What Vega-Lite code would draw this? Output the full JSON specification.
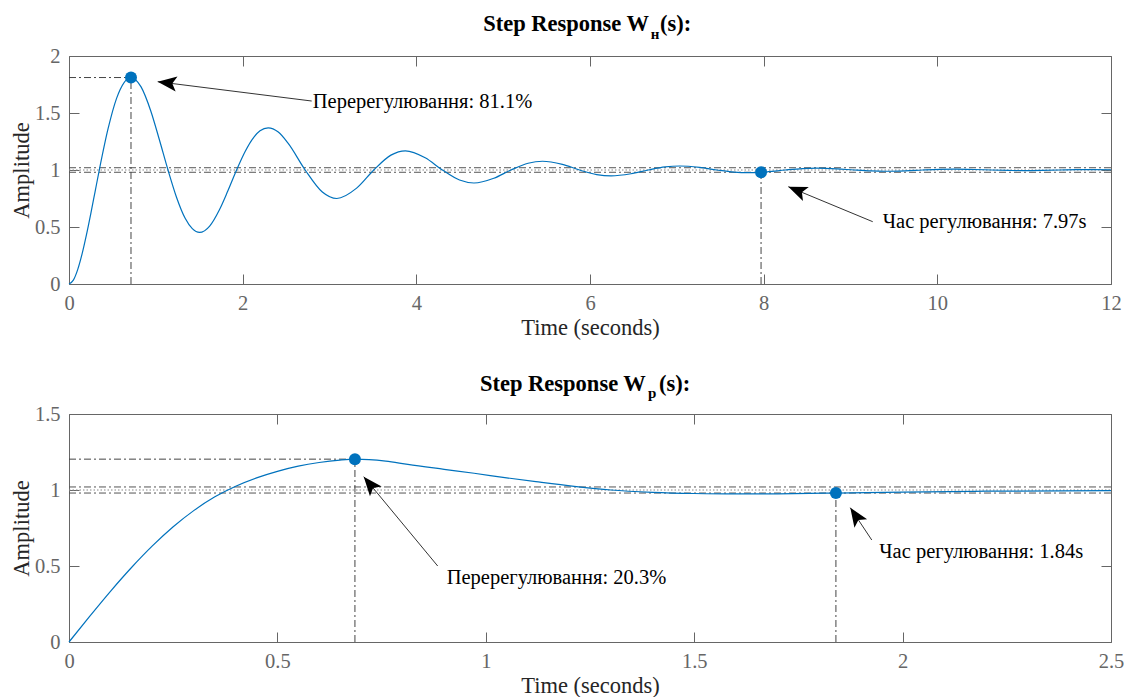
{
  "$schema": "https://vega.github.io/schema/vega-lite/v6.json",
  "background": "white",
  "padding": {"left": 10, "top": 13, "right": 0, "bottom": 0},
  "bounds": "flush",
  "spacing": 130,
  "config": {
    "view": {"stroke": null},
    "font": "Liberation Serif",
    "axis": {
      "domainColor": "#666666", "tickColor": "#666666", "labelColor": "#666666", "titleColor": "#262626",
      "labelFont": "Liberation Serif", "titleFont": "Liberation Serif",
      "labelFontSize": 20.5, "titleFontSize": 22.5, "titleFontWeight": "normal",
      "grid": false, "tickSize": -10, "labelFlush": false, "labelOverlap": false,
      "domainWidth": 1, "tickWidth": 1
    }
  },
  "vconcat": [
    {
      "width": 1042, "height": 228,
      "encoding": {
        "x": {"field": "x", "type": "quantitative", "scale": {"domain": [0, 12], "nice": false, "zero": false}, "axis": null},
        "y": {"field": "y", "type": "quantitative", "scale": {"domain": [0, 2], "nice": false, "zero": false}, "axis": null}
      },
      "resolve": {"axis": {"x": "independent", "y": "independent"}},
      "layer": [
        {
          "data": {"values": [{"x": 0, "x2": 12, "y": 0.98, "y2": 0.98}, {"x": 0, "x2": 12, "y": 1.02, "y2": 1.02}]},
          "mark": {"type": "rule", "color": "#555555", "strokeWidth": 1, "strokeDash": [7, 3, 2, 3]},
          "encoding": {"x2": {"field": "x2"}, "y2": {"field": "y2"}}
        },
        {
          "data": {"values": [{"x": 0, "x2": 12, "y": 1, "y2": 1}]},
          "mark": {"type": "rule", "color": "#888888", "strokeWidth": 1, "strokeDash": [1.5, 2]},
          "encoding": {"x2": {"field": "x2"}, "y2": {"field": "y2"}}
        },
        {
          "data": {"values": [{"x": 0, "x2": 0.714, "y": 1.811, "y2": 1.811}, {"x": 0.714, "x2": 0.714, "y": 0, "y2": 1.811}, {"x": 7.97, "x2": 7.97, "y": 0, "y2": 0.98}]},
          "mark": {"type": "rule", "color": "#444444", "strokeWidth": 1, "strokeDash": [7, 3, 2, 3]},
          "encoding": {"x2": {"field": "x2"}, "y2": {"field": "y2"}}
        },
        {
          "data": {"values": [
            {"x": 0, "y": 0}, {"x": 0.05, "y": 0.0342}, {"x": 0.1, "y": 0.1266}, {"x": 0.15, "y": 0.2621}, {"x": 0.2, "y": 0.4284}, {"x": 0.25, "y": 0.6134}, {"x": 0.3, "y": 0.8088}, {"x": 0.3503, "y": 1.0054}, {"x": 0.45, "y": 1.3622},
            {"x": 0.5478, "y": 1.6285}, {"x": 0.714, "y": 1.8111}, {"x": 0.83, "y": 1.7292}, {"x": 0.9427, "y": 1.5159}, {"x": 1.04, "y": 1.2676},
            {"x": 1.1402, "y": 1.0}, {"x": 1.24, "y": 0.7569}, {"x": 1.3377, "y": 0.576}, {"x": 1.42, "y": 0.4852}, {"x": 1.5039, "y": 0.4522}, {"x": 1.62, "y": 0.5083}, {"x": 1.7326, "y": 0.6516}, {"x": 1.83, "y": 0.8176},
            {"x": 1.9301, "y": 1.0}, {"x": 2.03, "y": 1.1644}, {"x": 2.1276, "y": 1.2863}, {"x": 2.2, "y": 1.3434}, {"x": 2.2938, "y": 1.3699}, {"x": 2.41, "y": 1.3325}, {"x": 2.5225, "y": 1.2353},
            {"x": 2.72, "y": 1.0}, {"x": 2.9175, "y": 0.8066}, {"x": 3.0837, "y": 0.7502}, {"x": 3.3124, "y": 0.8411},
            {"x": 3.5099, "y": 1.0}, {"x": 3.7074, "y": 1.1306}, {"x": 3.8736, "y": 1.1686}, {"x": 4.1023, "y": 1.1073},
            {"x": 4.2998, "y": 1.0}, {"x": 4.4973, "y": 0.9118}, {"x": 4.6635, "y": 0.8861}, {"x": 4.8922, "y": 0.9276},
            {"x": 5.0897, "y": 1.0}, {"x": 5.2872, "y": 1.0595}, {"x": 5.4534, "y": 1.0769}, {"x": 5.6821, "y": 1.049},
            {"x": 5.8796, "y": 1.0}, {"x": 6.0771, "y": 0.9598}, {"x": 6.2433, "y": 0.9481}, {"x": 6.472, "y": 0.967},
            {"x": 6.6695, "y": 1.0}, {"x": 6.867, "y": 1.0271}, {"x": 7.0332, "y": 1.035}, {"x": 7.2619, "y": 1.0223},
            {"x": 7.4594, "y": 1.0}, {"x": 7.6569, "y": 0.9817}, {"x": 7.8231, "y": 0.9763}, {"x": 7.97, "y": 0.98}, {"x": 8.0518, "y": 0.9849},
            {"x": 8.2493, "y": 1.0}, {"x": 8.4468, "y": 1.0124}, {"x": 8.613, "y": 1.016}, {"x": 8.8417, "y": 1.0102},
            {"x": 9.0392, "y": 1.0}, {"x": 9.2367, "y": 0.9916}, {"x": 9.4029, "y": 0.9892}, {"x": 9.6316, "y": 0.9931},
            {"x": 9.8291, "y": 1.0}, {"x": 10.0266, "y": 1.0056}, {"x": 10.1928, "y": 1.0073}, {"x": 10.4215, "y": 1.0046},
            {"x": 10.619, "y": 1.0}, {"x": 10.8165, "y": 0.9962}, {"x": 10.9827, "y": 0.9951}, {"x": 11.2114, "y": 0.9969},
            {"x": 11.4089, "y": 1.0}, {"x": 11.6064, "y": 1.0026}, {"x": 11.7726, "y": 1.0033}, {"x": 12, "y": 1.0021}
          ]},
          "mark": {"type": "line", "color": "#0072BD", "strokeWidth": 1.2, "interpolate": "monotone"},
          "encoding": {
            "x": {"field": "x", "type": "quantitative", "scale": {"domain": [0, 12], "nice": false, "zero": false},
                  "axis": {"orient": "bottom", "values": [0, 2, 4, 6, 8, 10, 12], "format": "~g", "title": "Time (seconds)", "labelPadding": 19, "titlePadding": 3}},
            "y": {"field": "y", "type": "quantitative", "scale": {"domain": [0, 2], "nice": false, "zero": false},
                  "axis": {"orient": "left", "values": [0, 0.5, 1, 1.5, 2], "format": "~g", "title": "Amplitude", "labelPadding": 19, "titlePadding": 1}}
          }
        },
        {
          "data": {"values": [{"x": 0.714, "y": 1.811}, {"x": 7.97, "y": 0.98}]},
          "mark": {"type": "point", "shape": "circle", "filled": true, "opacity": 1, "color": "#0072BD", "size": 144},
          "encoding": {
            "x": {"field": "x", "type": "quantitative", "scale": {"domain": [0, 12], "nice": false, "zero": false},
                  "axis": {"orient": "top", "values": [0, 2, 4, 6, 8, 10, 12], "labels": false, "title": null}},
            "y": {"field": "y", "type": "quantitative", "scale": {"domain": [0, 2], "nice": false, "zero": false},
                  "axis": {"orient": "right", "values": [0, 0.5, 1, 1.5, 2], "labels": false, "title": null}}
          }
        },
        {
          "data": {"values": [{"x": 1.0215, "y": 1.7746, "x2": 2.795, "y2": 1.605}, {"x": 8.284, "y": 0.8535, "x2": 9.256, "y2": 0.5465}]},
          "mark": {"type": "rule", "color": "#333333", "strokeWidth": 1},
          "encoding": {"x2": {"field": "x2"}, "y2": {"field": "y2"}}
        },
        {
          "data": {"values": [{"x": 1.0215, "y": 1.7746}]},
          "mark": {"type": "point", "shape": "M0,0 L0.8,2 L0,1.55 L-0.8,2 Z", "filled": true, "opacity": 1, "color": "#000000", "size": 361, "angle": 277, "strokeWidth": 0}
        },
        {
          "data": {"values": [{"x": 8.284, "y": 0.8535}]},
          "mark": {"type": "point", "shape": "M0,0 L0.8,2 L0,1.55 L-0.8,2 Z", "filled": true, "opacity": 1, "color": "#000000", "size": 361, "angle": 292.5, "strokeWidth": 0}
        },
        {
          "data": {"values": [{"x": 2.807, "y": 1.596, "label": "Перерегулювання: 81.1%"}, {"x": 9.371, "y": 0.5465, "label": "Час регулювання: 7.97s"}]},
          "mark": {"type": "text", "align": "left", "baseline": "middle", "font": "Liberation Serif", "fontSize": 20.5, "color": "#000000"},
          "encoding": {"text": {"field": "label", "type": "nominal"}}
        },
        {
          "data": {"values": [{"x": 6.68, "y": 2, "label": "Step Response W"}]},
          "mark": {"type": "text", "align": "right", "baseline": "alphabetic", "dy": -25, "font": "Liberation Serif", "fontWeight": "bold", "fontSize": 22.5, "color": "#000000"},
          "encoding": {"text": {"field": "label", "type": "nominal"}}
        },
        {
          "data": {"values": [{"x": 6.70, "y": 2, "label": "н"}]},
          "mark": {"type": "text", "align": "left", "baseline": "alphabetic", "dy": -17.5, "font": "Liberation Serif", "fontWeight": "bold", "fontSize": 15, "color": "#000000"},
          "encoding": {"text": {"field": "label", "type": "nominal"}}
        },
        {
          "data": {"values": [{"x": 6.806, "y": 2, "label": "(s):"}]},
          "mark": {"type": "text", "align": "left", "baseline": "alphabetic", "dy": -25, "font": "Liberation Serif", "fontWeight": "bold", "fontSize": 22.5, "color": "#000000"},
          "encoding": {"text": {"field": "label", "type": "nominal"}}
        }
      ]
    },
    {
      "width": 1042, "height": 228,
      "encoding": {
        "x": {"field": "x", "type": "quantitative", "scale": {"domain": [0, 2.5], "nice": false, "zero": false}, "axis": null},
        "y": {"field": "y", "type": "quantitative", "scale": {"domain": [0, 1.5], "nice": false, "zero": false}, "axis": null}
      },
      "resolve": {"axis": {"x": "independent", "y": "independent"}},
      "layer": [
        {
          "data": {"values": [{"x": 0, "x2": 2.5, "y": 0.98, "y2": 0.98}, {"x": 0, "x2": 2.5, "y": 1.02, "y2": 1.02}]},
          "mark": {"type": "rule", "color": "#555555", "strokeWidth": 1, "strokeDash": [7, 3, 2, 3]},
          "encoding": {"x2": {"field": "x2"}, "y2": {"field": "y2"}}
        },
        {
          "data": {"values": [{"x": 0, "x2": 2.5, "y": 1, "y2": 1}]},
          "mark": {"type": "rule", "color": "#888888", "strokeWidth": 1, "strokeDash": [1.5, 2]},
          "encoding": {"x2": {"field": "x2"}, "y2": {"field": "y2"}}
        },
        {
          "data": {"values": [{"x": 0, "x2": 0.686, "y": 1.203, "y2": 1.203}, {"x": 0.686, "x2": 0.686, "y": 0, "y2": 1.203}, {"x": 1.84, "x2": 1.84, "y": 0, "y2": 0.98}]},
          "mark": {"type": "rule", "color": "#444444", "strokeWidth": 1, "strokeDash": [7, 3, 2, 3]},
          "encoding": {"x2": {"field": "x2"}, "y2": {"field": "y2"}}
        },
        {
          "data": {"values": [
            {"x": 0, "y": 0}, {"x": 0.05, "y": 0.17}, {"x": 0.1, "y": 0.335}, {"x": 0.15, "y": 0.49}, {"x": 0.2, "y": 0.632}, {"x": 0.25, "y": 0.758},
            {"x": 0.3, "y": 0.866}, {"x": 0.35, "y": 0.955}, {"x": 0.4, "y": 1.025}, {"x": 0.45, "y": 1.08}, {"x": 0.5, "y": 1.123}, {"x": 0.55, "y": 1.157},
            {"x": 0.6, "y": 1.181}, {"x": 0.65, "y": 1.197}, {"x": 0.686, "y": 1.203}, {"x": 0.72, "y": 1.2}, {"x": 0.76, "y": 1.19}, {"x": 0.813, "y": 1.168},
            {"x": 0.9, "y": 1.136}, {"x": 0.972, "y": 1.11}, {"x": 1.05, "y": 1.08}, {"x": 1.12, "y": 1.055}, {"x": 1.212, "y": 1.024}, {"x": 1.3, "y": 1.0},
            {"x": 1.4, "y": 0.985}, {"x": 1.5, "y": 0.977}, {"x": 1.6, "y": 0.974}, {"x": 1.7, "y": 0.975}, {"x": 1.84, "y": 0.98}, {"x": 2.0, "y": 0.986},
            {"x": 2.2, "y": 0.992}, {"x": 2.5, "y": 0.996}
          ]},
          "mark": {"type": "line", "color": "#0072BD", "strokeWidth": 1.2, "interpolate": "monotone"},
          "encoding": {
            "x": {"field": "x", "type": "quantitative", "scale": {"domain": [0, 2.5], "nice": false, "zero": false},
                  "axis": {"orient": "bottom", "values": [0, 0.5, 1, 1.5, 2, 2.5], "format": "~g", "title": "Time (seconds)", "labelPadding": 19, "titlePadding": 3}},
            "y": {"field": "y", "type": "quantitative", "scale": {"domain": [0, 1.5], "nice": false, "zero": false},
                  "axis": {"orient": "left", "values": [0, 0.5, 1, 1.5], "format": "~g", "title": "Amplitude", "labelPadding": 19, "titlePadding": 1}}
          }
        },
        {
          "data": {"values": [{"x": 0.686, "y": 1.203}, {"x": 1.84, "y": 0.98}]},
          "mark": {"type": "point", "shape": "circle", "filled": true, "opacity": 1, "color": "#0072BD", "size": 144},
          "encoding": {
            "x": {"field": "x", "type": "quantitative", "scale": {"domain": [0, 2.5], "nice": false, "zero": false},
                  "axis": {"orient": "top", "values": [0, 0.5, 1, 1.5, 2, 2.5], "labels": false, "title": null}},
            "y": {"field": "y", "type": "quantitative", "scale": {"domain": [0, 1.5], "nice": false, "zero": false},
                  "axis": {"orient": "right", "values": [0, 0.5, 1, 1.5], "labels": false, "title": null}}
          }
        },
        {
          "data": {"values": [{"x": 0.7071, "y": 1.0875, "x2": 0.8846, "y2": 0.5}, {"x": 1.8745, "y": 0.8836, "x2": 1.926, "y2": 0.671}]},
          "mark": {"type": "rule", "color": "#333333", "strokeWidth": 1},
          "encoding": {"x2": {"field": "x2"}, "y2": {"field": "y2"}}
        },
        {
          "data": {"values": [{"x": 0.7071, "y": 1.0875}]},
          "mark": {"type": "point", "shape": "M0,0 L0.8,2 L0,1.55 L-0.8,2 Z", "filled": true, "opacity": 1, "color": "#000000", "size": 361, "angle": 320.4, "strokeWidth": 0}
        },
        {
          "data": {"values": [{"x": 1.8745, "y": 0.8836}]},
          "mark": {"type": "point", "shape": "M0,0 L0.8,2 L0,1.55 L-0.8,2 Z", "filled": true, "opacity": 1, "color": "#000000", "size": 361, "angle": 326.5, "strokeWidth": 0}
        },
        {
          "data": {"values": [{"x": 0.9062, "y": 0.423, "label": "Перерегулювання: 20.3%"}, {"x": 1.944, "y": 0.594, "label": "Час регулювання: 1.84s"}]},
          "mark": {"type": "text", "align": "left", "baseline": "middle", "font": "Liberation Serif", "fontSize": 20.5, "color": "#000000"},
          "encoding": {"text": {"field": "label", "type": "nominal"}}
        },
        {
          "data": {"values": [{"x": 1.384, "y": 1.5, "label": "Step Response W"}]},
          "mark": {"type": "text", "align": "right", "baseline": "alphabetic", "dy": -23.5, "font": "Liberation Serif", "fontWeight": "bold", "fontSize": 22.5, "color": "#000000"},
          "encoding": {"text": {"field": "label", "type": "nominal"}}
        },
        {
          "data": {"values": [{"x": 1.389, "y": 1.5, "label": "p"}]},
          "mark": {"type": "text", "align": "left", "baseline": "alphabetic", "dy": -16, "font": "Liberation Serif", "fontWeight": "bold", "fontSize": 15, "color": "#000000"},
          "encoding": {"text": {"field": "label", "type": "nominal"}}
        },
        {
          "data": {"values": [{"x": 1.4156, "y": 1.5, "label": "(s):"}]},
          "mark": {"type": "text", "align": "left", "baseline": "alphabetic", "dy": -23.5, "font": "Liberation Serif", "fontWeight": "bold", "fontSize": 22.5, "color": "#000000"},
          "encoding": {"text": {"field": "label", "type": "nominal"}}
        }
      ]
    }
  ]
}
